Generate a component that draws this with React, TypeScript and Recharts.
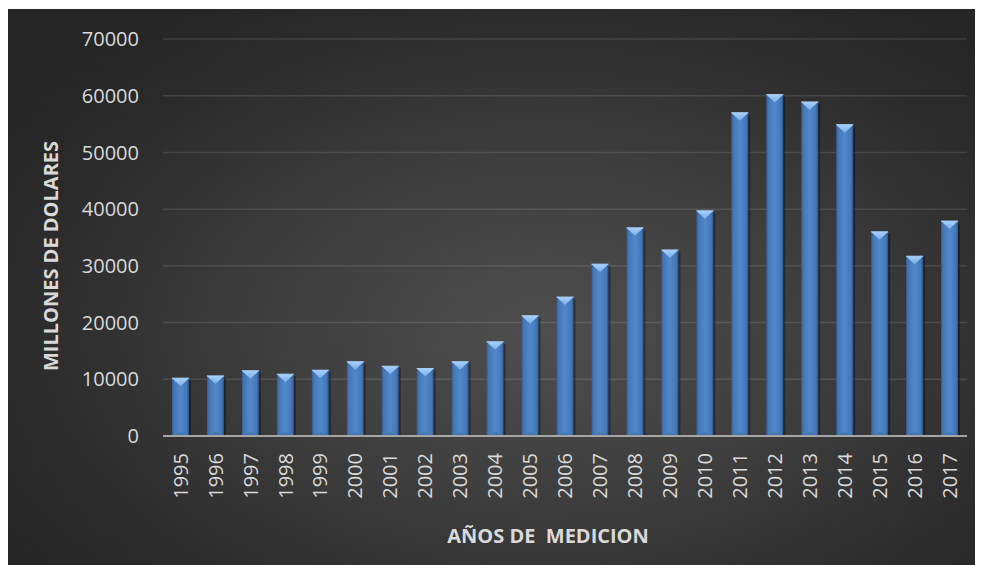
import { BarChart, Bar, XAxis, YAxis, CartesianGrid, Label } from 'recharts'

// Annual values, millions of dollars
const years = ['1995', '1996', '1997', '1998', '1999', '2000', '2001', '2002', '2003', '2004', '2005', '2006',
  '2007', '2008', '2009', '2010', '2011', '2012', '2013', '2014', '2015', '2016', '2017']
const amounts = [10200, 10600, 11500, 10900, 11600, 13100, 12300, 11900, 13100, 16600, 21200, 24500,
  30300, 36700, 32800, 39700, 57000, 60200, 58900, 54900, 36000, 31700, 37900]
const yTicks = [0, 10000, 20000, 30000, 40000, 50000, 60000, 70000]

const data = years.map((year, i) => ({ year, amount: amounts[i] }))

const FONT = '"Open Sans", sans-serif'
const TEXT = '#d9d9d9'

// bar with a bevelled top, like Excel's "angle" bevel preset
function BevelBar(props: any) {
  const { x, y, width, height } = props
  if (!height || height <= 0) return null
  const tip = Math.min(8, height / 2)
  return (
    <g>
      <rect x={x + 2} y={y + 2} width={width} height={height - 2} fill="#000" opacity={0.35} />
      <rect x={x} y={y} width={width} height={height} fill="url(#barFace)" />
      <polygon points={`${x},${y + height} ${x + width},${y + height} ${x + width / 2},${y + height - 4}`} fill="#3c6aa5" opacity={0.6} />
      <polygon points={`${x},${y} ${x + width},${y} ${x + width / 2},${y + tip}`} fill="url(#barTop)" />
      <line x1={x} y1={y} x2={x + width} y2={y} stroke="#a9cdf5" strokeWidth={1} />
    </g>
  )
}

function YearTick(props: any) {
  const { x, y, payload } = props
  const ty = y + 17
  return (
    <text x={x} y={ty} transform={`rotate(-90 ${x} ${ty})`} textAnchor="end" dy="0.36em"
      fill={TEXT} fontSize={20} fontFamily={FONT}>
      {payload.value}
    </text>
  )
}

export default function App() {
  return (
    <div style={{
      width: 975, height: 556, marginTop: 1,
      background: 'radial-gradient(ellipse 65% 70% at 55% 58%, #4e4e4e 0%, #3d3d3d 45%, #2a2a2a 85%, #262626 100%)',
    }}>
      <BarChart width={975} height={556} data={data} margin={{ top: 30, right: 16, left: 0, bottom: 0 }} barSize={17}>
        <defs>
          <linearGradient id="barFace" x1="0" y1="0" x2="1" y2="0">
            <stop offset="0%" stopColor="#325b90" />
            <stop offset="12%" stopColor="#4576b6" />
            <stop offset="50%" stopColor="#5089cb" />
            <stop offset="88%" stopColor="#4576b6" />
            <stop offset="100%" stopColor="#2c5080" />
          </linearGradient>
          <linearGradient id="barTop" x1="0" y1="0" x2="0" y2="1">
            <stop offset="0%" stopColor="#a8d0fb" />
            <stop offset="100%" stopColor="#78aee8" />
          </linearGradient>
        </defs>
        <CartesianGrid vertical={false} stroke="rgba(255,255,255,0.11)" strokeWidth={1.5} />
        <XAxis dataKey="year" height={129} interval={0} tickSize={0} tickMargin={0}
          axisLine={{ stroke: '#a6a6a6', strokeWidth: 2 }} tickLine={false} tick={<YearTick />}>
          <Label content={({ viewBox }: any) => (
            <text x={540} y={viewBox.y + 100} textAnchor="middle" dy="0.35em" fill={TEXT}
              fontSize={20} fontWeight="bold" fontFamily={FONT} style={{ whiteSpace: 'pre' }}>
              AÑOS DE  MEDICION
            </text>
          )} />
        </XAxis>
        <YAxis width={155} domain={[0, 70000]} ticks={yTicks} interval={0} axisLine={false} tickLine={false}
          tickSize={0} tickMargin={24} tick={{ fill: TEXT, fontSize: 20, fontFamily: FONT }}>
          <Label content={() => (
            <text x={43} y={247} transform="rotate(-90 43 247)" textAnchor="middle" dy="0.35em" fill={TEXT}
              fontSize={20} fontWeight="bold" fontFamily={FONT}>
              MILLONES DE DOLARES
            </text>
          )} />
        </YAxis>
        <Bar dataKey="amount" shape={(p: any) => <BevelBar {...p} />} isAnimationActive={false} />
      </BarChart>
    </div>
  )
}
